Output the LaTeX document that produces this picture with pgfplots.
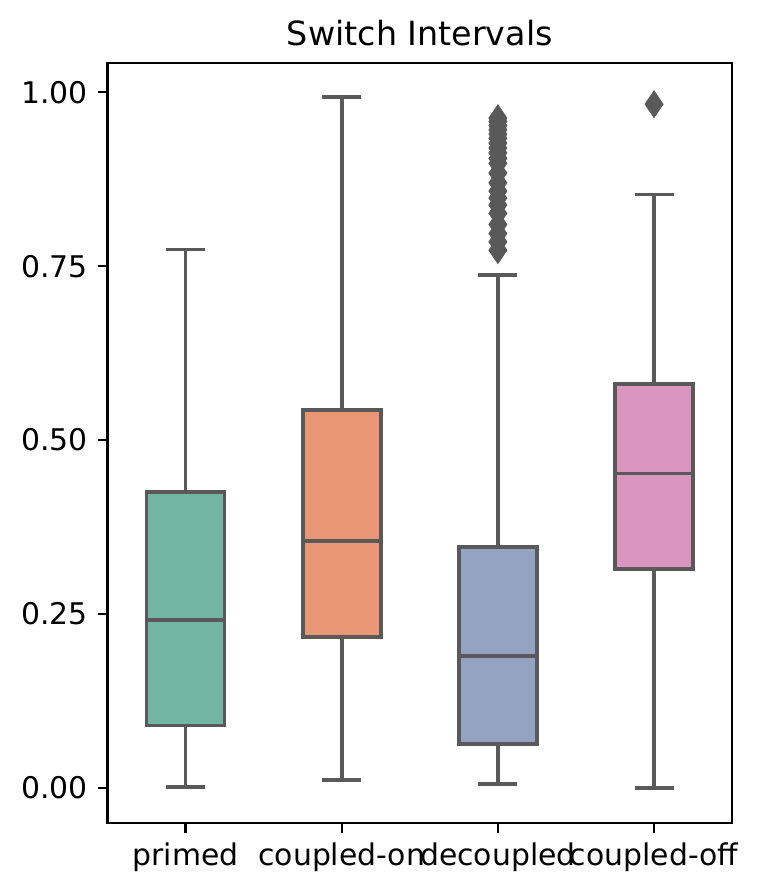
\documentclass[border=0pt]{standalone}
\usepackage{fontspec}
\setmainfont{DejaVu Sans}
\usepackage{pgfplots}
\pgfplotsset{compat=1.18}
\usepgfplotslibrary{statistics}

\definecolor{boxline}{HTML}{595959}
\definecolor{cprimed}{HTML}{72B6A1}
\definecolor{con}{HTML}{E99675}
\definecolor{cdec}{HTML}{95A3C3}
\definecolor{coff}{HTML}{DB96C0}

\begin{document}
\begin{tikzpicture}
\begin{axis}[
  name=ax,
  scale only axis,
  width=224.9pt, height=273.8pt,
  xmin=-0.5, xmax=3.5,
  ymin=-0.0512, ymax=1.0426,
  xtick={0,1,2,3},
  xticklabels={primed,coupled-on,decoupled,coupled-off},
  ytick={0,0.25,0.5,0.75,1},
  yticklabel style={/pgf/number format/.cd,fixed,fixed zerofill,precision=2},
  /pgf/number format/assume math mode=true,
  tick label style={font=\fontsize{10.75}{12}\selectfont},
  title={Switch Intervals},
  title style={font=\fontsize{12}{14}\selectfont, yshift=-3.5pt},
  axis line style={line width=0.8pt},
  tick style={line width=0.8pt, black},
  major tick length=3.5pt,
  tick align=outside,
  xtick pos=bottom, ytick pos=left,
  boxplot/draw direction=y,
  every boxplot/.style={solid},
]
\addplot[boxplot prepared={lower whisker=0.001, lower quartile=0.0892,
  median=0.241, upper quartile=0.425, upper whisker=0.774,
  draw position=0, box extend=0.5, whisker extend=0.25},
  draw=boxline, fill=cprimed, line width=1.35pt]
  coordinates {};
\addplot[boxplot prepared={lower whisker=0.011, lower quartile=0.2167,
  median=0.355, upper quartile=0.543, upper whisker=0.993,
  draw position=1, box extend=0.5, whisker extend=0.25},
  draw=boxline, fill=con, line width=1.35pt]
  coordinates {};
\addplot[boxplot prepared={lower whisker=0.005, lower quartile=0.063,
  median=0.189, upper quartile=0.346, upper whisker=0.737,
  draw position=2, box extend=0.5, whisker extend=0.25},
  draw=boxline, fill=cdec, line width=1.35pt,
  mark=diamond*, mark size=4.8pt,
  mark options={xscale=0.9, fill=boxline, draw=boxline, line width=0.3pt}]
  table[row sep=\\, y index=0] {
  v\\ 0.963\\ 0.958\\ 0.952\\ 0.946\\ 0.940\\ 0.934\\ 0.927\\ 0.920\\
  0.913\\ 0.905\\ 0.898\\ 0.884\\ 0.870\\ 0.858\\ 0.848\\ 0.838\\
  0.826\\ 0.810\\ 0.797\\ 0.785\\ 0.773\\
  };
\addplot[boxplot prepared={lower whisker=0.0, lower quartile=0.315,
  median=0.452, upper quartile=0.581, upper whisker=0.853,
  draw position=3, box extend=0.5, whisker extend=0.25},
  draw=boxline, fill=coff, line width=1.35pt,
  mark=diamond*, mark size=4.8pt,
  mark options={xscale=0.9, fill=boxline, draw=boxline, line width=0.3pt}]
  table[row sep=\\, y index=0] {
  v\\ 0.983\\
  };
\end{axis}
\pgfresetboundingbox
\path[use as bounding box] ([shift={(-38.7pt,-24.4pt)}]ax.south west)
  rectangle ([shift={(10pt,22.6pt)}]ax.north east);
\end{tikzpicture}
\end{document}
